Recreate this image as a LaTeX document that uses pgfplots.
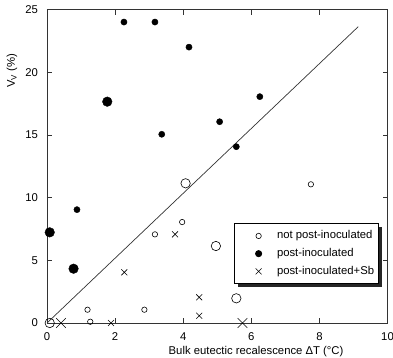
\documentclass[border=0pt]{standalone}
\usepackage{pgfplots}
\pgfplotsset{compat=1.18}
\usepackage{fontspec}
\setmainfont{Liberation Sans}
\usetikzlibrary{shadows}

\begin{document}
\begin{tikzpicture}[font=\fontsize{11.3}{13.5}\selectfont]
\begin{axis}[
  scale only axis, width=340.5pt, height=313.5pt,
  xmin=0, xmax=10, ymin=0, ymax=25,
  xtick={0,2,...,10}, ytick={0,5,...,25},
  tick align=inside, major tick length=5pt,
  axis line style={line width=0.7pt, black!80},
  tick style={line width=0.7pt, black!80},
  /pgf/number format/assume math mode=true,
  xticklabel style={yshift=-6pt},
  yticklabel style={xshift=-5.5pt},
  clip=false,
  xlabel={Bulk eutectic recalescence ΔT (°C)},
  xlabel style={at={(axis description cs:0.614,0)}, anchor=north, yshift=-20pt},
  ylabel={V\textsubscript{V} (\%)},
  every axis y label/.style={at={(axis description cs:-0.1028,0.804)}, anchor=center, rotate=90},
  legend image code/.code={%
    \path (-21pt,0pt) (6pt,0pt);
    \draw[#1] plot coordinates {(0pt,0pt)};},
  legend style={at={(axis description cs:0.975,0.318)}, anchor=north east,
    draw=black, line width=0.8pt, fill=white,
    drop shadow={shadow xshift=3pt, shadow yshift=-3pt, fill=black!85, opacity=1},
    inner xsep=2.5pt, inner ysep=3.4pt, column sep=10pt, row sep=0pt,
    nodes={text height=8.5pt, text depth=2.5pt, inner ysep=3.35pt},
    font=\fontsize{11.3}{13.5}\selectfont},
  legend cell align=left,
]
% not post-inoculated
\addplot[only marks, mark=o, mark size=2.7pt, mark options={black, line width=0.6pt}]
  coordinates {(1.19,1.06) (1.27,0.1) (2.86,1.06) (3.17,7.07) (3.97,8.05) (7.75,11.06)};
\addlegendentry{not post-inoculated}
% post-inoculated
\addplot[only marks, mark=*, mark size=3.1pt, mark options={black, fill=black}]
  coordinates {(2.26,24.0) (3.17,24.0) (4.17,22.0) (3.37,15.05) (6.25,18.05) (5.07,16.05) (5.56,14.06) (0.88,9.04)};
\addlegendentry{post-inoculated}
% post-inoculated + Sb
\addplot[only marks, mark=x, mark size=4.2pt, mark options={black, line width=0.6pt}]
  coordinates {(1.88,0) (2.27,4.04) (3.76,7.07) (4.47,2.05) (4.47,0.58)};
\addlegendentry{post-inoculated+Sb}
% larger symbols of the same series
\addplot[forget plot, only marks, mark=o, mark size=4.7pt, mark options={black, line width=0.6pt}]
  coordinates {(0.08,0) (4.07,11.14) (4.96,6.14) (5.56,1.97)};
\addplot[forget plot, only marks, mark=*, mark size=4.8pt, mark options={black, fill=black}]
  coordinates {(1.77,17.65) (0.08,7.23) (0.78,4.33)};
\addplot[forget plot, only marks, mark=x, mark size=6.8pt, mark options={black, line width=0.6pt}]
  coordinates {(0.41,0) (5.74,0)};
% fitted line
\addplot[forget plot, black!80, line width=0.7pt] coordinates {(0,0) (9.14,23.63)};
\end{axis}
\pgfresetboundingbox
\path[use as bounding box] (-47pt,-34pt) rectangle (346pt,323pt);
\end{tikzpicture}
\end{document}
